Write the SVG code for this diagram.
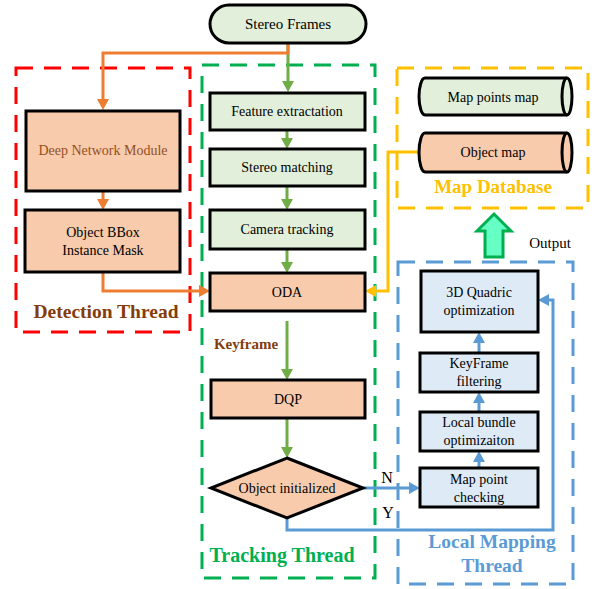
<svg xmlns="http://www.w3.org/2000/svg" width="597" height="589" viewBox="0 0 597 589">
<defs>
<style>
text{font-family:"Liberation Serif","Times New Roman",serif;fill:#000;text-anchor:middle}
.n{font-size:14px}
.box{stroke:#000;stroke-width:3}
.g{fill:#e2efda}
.o{fill:#f8cbad}
.b{fill:#deebf7}
.dash{fill:none;stroke-width:3;stroke-dasharray:17 11}
.t{font-weight:bold;font-size:19.5px}
.cg{fill:none;stroke:#70ad47;stroke-width:3}
.co{fill:none;stroke:#ed7d31;stroke-width:3}
.cb{fill:none;stroke:#5b9bd5;stroke-width:3}
.cy{fill:none;stroke:#ffc000;stroke-width:3}
</style>
<marker id="ag" markerUnits="userSpaceOnUse" markerWidth="12" markerHeight="12" refX="0" refY="6" orient="auto"><path d="M0,0 L11,6 L0,12 z" fill="#70ad47"/></marker>
<marker id="ao" markerUnits="userSpaceOnUse" markerWidth="12" markerHeight="12" refX="0" refY="6" orient="auto"><path d="M0,0 L11,6 L0,12 z" fill="#ed7d31"/></marker>
<marker id="ab" markerUnits="userSpaceOnUse" markerWidth="12" markerHeight="12" refX="0" refY="6" orient="auto"><path d="M0,0 L11,6 L0,12 z" fill="#5b9bd5"/></marker>
<marker id="ay" markerUnits="userSpaceOnUse" markerWidth="12" markerHeight="12" refX="0" refY="6" orient="auto"><path d="M0,0 L11,6 L0,12 z" fill="#ffc000"/></marker>
</defs>
<rect width="597" height="589" fill="#fff"/>

<g id="groups">
<rect class="dash" x="16" y="68" width="174" height="264" stroke="#ff0000"/>
<rect class="dash" x="202" y="65" width="173" height="513" stroke="#00b050"/>
<rect class="dash" x="397" y="68" width="191" height="140" stroke="#ffc000"/>
<rect class="dash" x="398" y="262" width="175" height="322" stroke="#5b9bd5"/>
<text class="t" x="106" y="318" style="fill:#843c0c">Detection Thread</text>
<text class="t" x="282" y="562" style="fill:#00b050;font-size:20px">Tracking Thread</text>
<text class="t" x="493" y="193" style="fill:#ffc000;font-size:19px">Map Database</text>
<text class="t" x="492" y="548" style="fill:#5b9bd5">Local Mapping</text>
<text class="t" x="492" y="572" style="fill:#5b9bd5">Thread</text>
</g>

<g id="connectors">
<path class="cg" d="M288,43 V81" marker-end="url(#ag)"/>
<path class="co" d="M288,43 V53 H103 V99" marker-end="url(#ao)"/>
<path class="co" d="M103,191 V199" marker-end="url(#ao)"/>
<path class="co" d="M103,272 V291 H199" marker-end="url(#ao)"/>
<path class="cg" d="M287,130 V138" marker-end="url(#ag)"/>
<path class="cg" d="M287,186 V199" marker-end="url(#ag)"/>
<path class="cg" d="M287,249 V262" marker-end="url(#ag)"/>
<path class="cg" d="M287,321 V369" marker-end="url(#ag)"/>
<path class="cg" d="M287,418 V447" marker-end="url(#ag)"/>
<path class="cy" d="M419,152 H388 V291 H376" marker-end="url(#ay)"/>
<path class="cb" d="M363,488 H409" marker-end="url(#ab)"/>
<path class="cb" d="M479,468 V462" marker-end="url(#ab)"/>
<path class="cb" d="M479,412 V403" marker-end="url(#ab)"/>
<path class="cb" d="M479,353 V343" marker-end="url(#ab)"/>
<path class="cb" d="M287,518 V530 H553 V300 H549" marker-end="url(#ab)"/>
<path d="M485,257 V231 H477 L494,214 L511,231 H503 V257 Z" fill="#66ffc4" stroke="#00b050" stroke-width="3" stroke-linejoin="miter"/>
<text x="550" y="248" style="font-size:15px">Output</text>
<text x="387" y="483" style="font-size:16px">N</text>
<text x="388" y="518" style="font-size:16px">Y</text>
<text x="246" y="349" style="font-weight:bold;font-size:15px;fill:#843c0c">Keyframe</text>
</g>

<g id="stereo-frames">
<rect class="box g" x="210" y="5" width="156" height="38" rx="19"/>
<text x="288" y="29" style="font-size:15px">Stereo Frames</text>
</g>
<g id="deep-network">
<rect class="box o" x="26" y="111" width="154" height="80"/>
<text class="n" x="103" y="155" style="fill:#944f1f">Deep Network Module</text>
</g>
<g id="object-bbox">
<rect class="box o" x="25" y="210" width="155" height="62"/>
<text class="n" x="103" y="237">Object BBox</text>
<text class="n" x="103" y="255">Instance Mask</text>
</g>
<g id="feature-extraction">
<rect class="box g" x="210" y="93" width="155" height="37"/>
<text class="n" x="287" y="116">Feature extractation</text>
</g>
<g id="stereo-matching">
<rect class="box g" x="210" y="149" width="155" height="37"/>
<text class="n" x="287" y="172">Stereo matching</text>
</g>
<g id="camera-tracking">
<rect class="box g" x="210" y="210" width="155" height="39"/>
<text class="n" x="287" y="234">Camera tracking</text>
</g>
<g id="oda">
<rect class="box o" x="210" y="273" width="155" height="38"/>
<text class="n" x="287" y="297">ODA</text>
</g>
<g id="dqp">
<rect class="box o" x="211" y="380" width="154" height="38"/>
<text class="n" x="288" y="404">DQP</text>
</g>
<g id="object-initialized">
<path class="box o" d="M287,458 L363,488 L287,518 L211,488 Z"/>
<text class="n" x="287" y="493">Object initialized</text>
</g>
<g id="map-points-map">
<path class="box g" d="M425,78 H567 A5,18.5 0 0 1 567,115 H425 A6,18.5 0 0 1 425,78 Z"/>
<path d="M567,78 A5,18.5 0 0 0 567,115" fill="none" stroke="#000" stroke-width="3"/>
<text class="n" x="493" y="102">Map points map</text>
</g>
<g id="object-map">
<path class="box o" d="M425,133 H567 A5,19.5 0 0 1 567,172 H425 A6,19.5 0 0 1 425,133 Z"/>
<path d="M567,133 A5,19.5 0 0 0 567,172" fill="none" stroke="#000" stroke-width="3"/>
<text class="n" x="493" y="157">Object map</text>
</g>
<g id="quadric">
<rect class="box b" x="421" y="271" width="117" height="61"/>
<text class="n" x="479" y="297">3D Quadric</text>
<text class="n" x="479" y="315">optimization</text>
</g>
<g id="keyframe-filtering">
<rect class="box b" x="420" y="353" width="118" height="39"/>
<text class="n" x="479" y="368">KeyFrame</text>
<text class="n" x="479" y="386">filtering</text>
</g>
<g id="local-bundle">
<rect class="box b" x="420" y="412" width="118" height="39"/>
<text class="n" x="479" y="427">Local bundle</text>
<text class="n" x="479" y="445">optimizaiton</text>
</g>
<g id="map-point-checking">
<rect class="box b" x="420" y="468" width="118" height="39"/>
<text class="n" x="479" y="484">Map point</text>
<text class="n" x="479" y="502">checking</text>
</g>
</svg>
